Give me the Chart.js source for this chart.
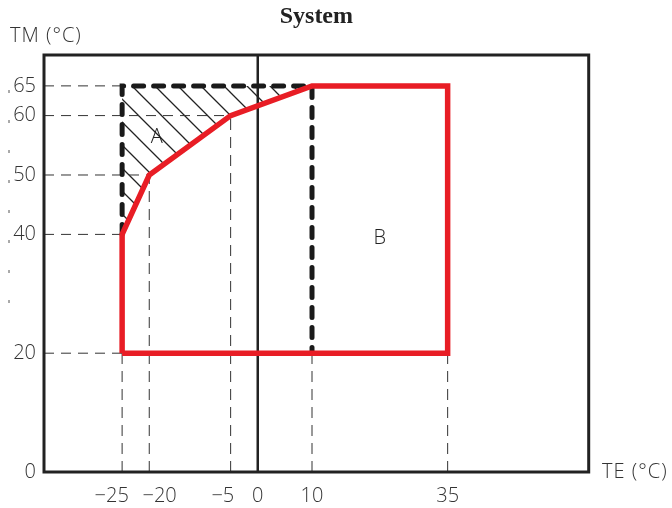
<!DOCTYPE html>
<html>
<head>
<meta charset="utf-8">
<script src="https://cdn.jsdelivr.net/npm/chart.js@4.4.1/dist/chart.umd.min.js"></script>
<style>
  html, body { margin: 0; padding: 0; background: #fff; }
</style>
</head>
<body>
<canvas id="chart" width="672" height="508"></canvas>
<script>
// tick values and their labels (spaces nudge the crowded negative labels like the drawing does)
var teTicks = [-25, -20, -5, 0, 10, 35];
var teTickLabels = ['−25    ', '    −20', '−5   ', '0', '10', '35'];
var tmTicks = [0, 20, 40, 50, 60, 65];
var tmTickLabels = ['0', '20', '40', '50', '60', '65'];

// red envelope (TE, TM)
var envTE = [-25, -25, -20, -5, 10, 35, 35, -25];
var envTM = [20, 40, 50, 60, 65, 65, 20, 20];

// zone A heavy dashed boundary
var zoneTE = [-25, -25, 10, 10];
var zoneTM = [40, 65, 65, 20];

// hatched part of zone A
var hatchTE = [-25, -25, 10, -5, -20, -25];
var hatchTM = [40, 65, 65, 60, 50, 40];

// thin guide lines: horizontal to these points / vertical down from these points
var guideHTE = [-25, -5, -20, -25, -25];
var guideHTM = [65, 60, 50, 40, 20];
var guideVTE = [-25, -20, -5, 10, 35];
var guideVTM = [20, 50, 60, 20, 20];

// zone labels
var zoneNames = ['A', 'B'];
var zoneNameTE = [-18.6, 22.5];
var zoneNameTM = [56.3, 39.4];

var X_MIN = -39.4, X_MAX = 61, Y_MIN = 0, Y_MAX = 70.2;

var sans = '"Open Sans", "DejaVu Sans", sans-serif';
var tickFont = { family: sans, size: 20, weight: '300' };
var textColor = '#333';

function pts(xs, ys) {
  return xs.map(function (x, i) { return { x: x, y: ys[i] }; });
}

function hatchPattern() {
  var s = 23;
  var c = document.createElement('canvas');
  c.width = s; c.height = s;
  var g = c.getContext('2d');
  g.strokeStyle = '#222';
  g.lineWidth = 1.3;
  g.beginPath();
  g.moveTo(-3, -3); g.lineTo(s + 3, s + 3);
  g.moveTo(-3, s - 3); g.lineTo(3, s + 3);
  g.moveTo(s - 3, -3); g.lineTo(s + 3, 3);
  g.stroke();
  return g.createPattern(c, 'repeat');
}

var datasets = [];

// red envelope
datasets.push({
  data: pts(envTE, envTM),
  borderColor: '#e81d25', borderWidth: 5.5, borderJoinStyle: 'miter',
  order: 0
});

// heavy dashed zone A
datasets.push({
  data: pts(zoneTE, zoneTM),
  borderColor: '#1a1a1a', borderWidth: 5, borderDash: [10, 10],
  borderCapStyle: 'round', order: 1
});

// TE = 0 line
datasets.push({
  data: [{ x: 0, y: Y_MIN }, { x: 0, y: Y_MAX }],
  borderColor: '#222', borderWidth: 2.5, order: 2
});

// guides
guideHTM.forEach(function (tm, i) {
  datasets.push({
    data: [{ x: X_MIN, y: tm }, { x: guideHTE[i], y: tm }],
    borderColor: '#333', borderWidth: 1, borderDash: [10, 7], order: 3
  });
});
guideVTE.forEach(function (te, i) {
  datasets.push({
    data: [{ x: te, y: Y_MIN }, { x: te, y: guideVTM[i] }],
    borderColor: '#333', borderWidth: 1, borderDash: [11, 7], order: 3
  });
});

// hatch
datasets.push({
  data: pts(hatchTE, hatchTM),
  borderWidth: 0, borderColor: 'rgba(0,0,0,0)',
  backgroundColor: hatchPattern(), fill: 'shape', order: 4
});

datasets.forEach(function (d) {
  d.showLine = true;
  d.pointRadius = 0;
  d.pointHoverRadius = 0;
  d.tension = 0;
});

var decor = {
  id: 'decor',
  afterDatasetsDraw: function (chart) {
    var ctx = chart.ctx, a = chart.chartArea;
    var xs = chart.scales.x, ys = chart.scales.y;
    ctx.save();
    // frame
    ctx.strokeStyle = '#222';
    ctx.lineWidth = 3;
    ctx.strokeRect(a.left, a.top, a.right - a.left, a.bottom - a.top);

    // faint marks left of the tick labels
    ctx.strokeStyle = '#555';
    ctx.lineWidth = 1;
    ctx.setLineDash([3, 27]);
    ctx.beginPath();
    ctx.moveTo(9, 90);
    ctx.lineTo(9, 330);
    ctx.stroke();
    ctx.setLineDash([]);

    ctx.fillStyle = '#222';
    ctx.font = '300 20px ' + sans;
    ctx.textAlign = 'center';
    ctx.textBaseline = 'middle';
    zoneNames.forEach(function (n, i) {
      ctx.fillText(n, xs.getPixelForValue(zoneNameTE[i]), ys.getPixelForValue(zoneNameTM[i]));
    });

    ctx.fillStyle = textColor;
    ctx.font = '300 20px ' + sans;
    ctx.textAlign = 'left';
    ctx.letterSpacing = '1px';
    ctx.fillText('TM (°C)', 10, 36);
    ctx.fillText('TE (°C)', 602, 472);
    ctx.restore();
  }
};

new Chart(document.getElementById('chart'), {
  type: 'scatter',
  data: { datasets: datasets },
  options: {
    responsive: false,
    devicePixelRatio: 1,
    animation: false,
    layout: { padding: { left: 0, right: 83.3, top: 0, bottom: 0 } },
    plugins: {
      legend: { display: false },
      tooltip: { enabled: false },
      title: {
        display: true,
        text: 'System',
        fullSize: false,
        color: '#222',
        font: { family: '"Liberation Serif", serif', size: 24, weight: 'bold', lineHeight: 1.2 },
        padding: { top: 2, bottom: 24.2 }
      }
    },
    scales: {
      x: {
        type: 'linear', min: X_MIN, max: X_MAX,
        afterBuildTicks: function (s) { s.ticks = teTicks.map(function (v) { return { value: v }; }); },
        afterFit: function (s) { s.height = 36; },
        grid: { display: false, drawTicks: false },
        border: { display: false },
        ticks: {
          padding: 12, color: textColor, font: tickFont, autoSkip: false, maxRotation: 0,
          callback: function (v, i) { return teTickLabels[i]; }
        }
      },
      y: {
        type: 'linear', min: Y_MIN, max: Y_MAX,
        afterBuildTicks: function (s) { s.ticks = tmTicks.map(function (v) { return { value: v }; }); },
        afterFit: function (s) { s.width = 44; },
        grid: { display: false, drawTicks: false },
        border: { display: false },
        ticks: {
          padding: 8, color: textColor, font: tickFont, autoSkip: false,
          callback: function (v, i) { return tmTickLabels[i]; }
        }
      }
    }
  },
  plugins: [decor]
});
</script>
</body>
</html>
